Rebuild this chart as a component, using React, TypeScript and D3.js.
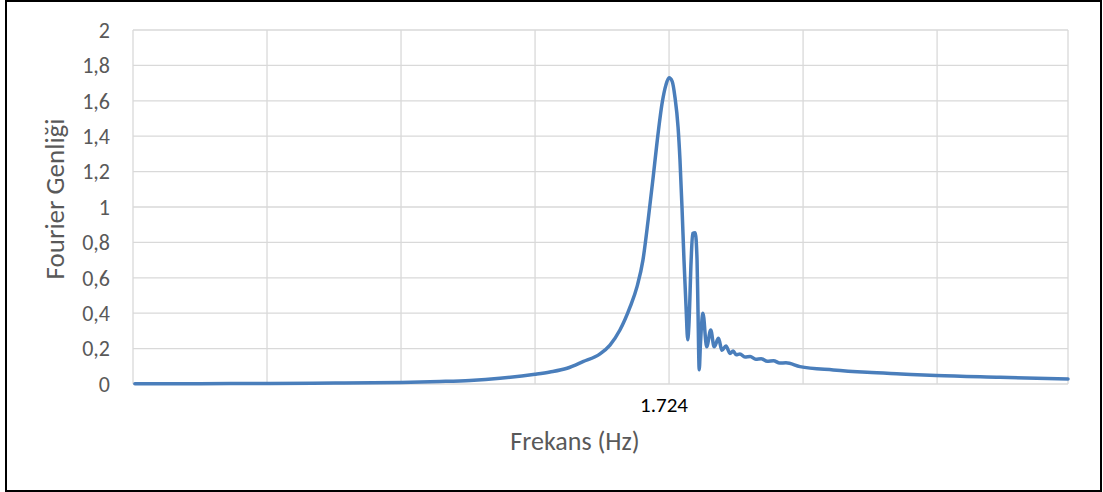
import React from "react";
import * as d3 from "d3";

// frequency (Hz) and Fourier amplitude
const freq = [
  0.006, 0.216, 0.441, 0.65, 0.862, 0.987, 1.084, 1.18, 1.293, 1.341, 1.396,
  1.447, 1.502, 1.534, 1.566, 1.599, 1.621, 1.64, 1.657, 1.673, 1.685, 1.702,
  1.714, 1.724, 1.734, 1.743, 1.753, 1.759, 1.766, 1.772, 1.779, 1.784, 1.788,
  1.795, 1.8, 1.808, 1.814, 1.817, 1.821, 1.825, 1.833, 1.845, 1.858, 1.869,
  1.883, 1.894, 1.907, 1.92, 1.93, 1.94, 1.952, 1.968, 1.985, 2.003, 2.02,
  2.04, 2.06, 2.08, 2.1, 2.145, 2.252, 2.361, 2.47, 2.583, 2.789, 3.007,
];
const amp = [
  0.002, 0.002, 0.003, 0.005, 0.009, 0.014, 0.02, 0.032, 0.055, 0.068, 0.089,
  0.126, 0.17, 0.22, 0.305, 0.437, 0.55, 0.7, 0.93, 1.17, 1.36, 1.59, 1.69,
  1.73, 1.71, 1.62, 1.45, 1.27, 0.98, 0.7, 0.42, 0.25, 0.34, 0.7, 0.85, 0.855,
  0.7, 0.42, 0.08, 0.23, 0.4, 0.21, 0.305, 0.21, 0.258, 0.19, 0.215, 0.173,
  0.186, 0.165, 0.17, 0.152, 0.155, 0.14, 0.143, 0.128, 0.132, 0.118, 0.12,
  0.098, 0.079, 0.066, 0.057, 0.048, 0.038, 0.028,
];
const yTicks = [0, 0.2, 0.4, 0.6, 0.8, 1, 1.2, 1.4, 1.6, 1.8, 2];
const xLabel = 1.724;
const gridStep = 0.431;

const W = 1103;
const H = 492;
const margin = { left: 133, right: 35, top: 30, bottom: 108 };

function App() {
  const data = freq.map((f, i) => ({ f, a: amp[i] }));
  const x = d3
    .scaleLinear()
    .domain([0, freq[freq.length - 1]])
    .range([margin.left, W - margin.right]);
  const y = d3
    .scaleLinear()
    .domain([0, 2])
    .range([H - margin.bottom, margin.top]);

  const line = d3
    .line<any>()
    .x((d) => x(d.f))
    .y((d) => y(d.a))
    .curve(d3.curveMonotoneX);

  const vGrid = d3.range(0, 7).map((k) => k * gridStep);
  vGrid.push(freq[freq.length - 1]);

  const fmt = (v: number) => String(v).replace(".", ",");
  const font = "Carlito, Calibri, Lato, sans-serif";

  return (
    <div style={{ position: "absolute", left: 0, top: 0 }}>
      <svg width={W} height={H} style={{ display: "block", background: "#fff" }}>
        <rect x={6} y={1} width={1095} height={490} fill="#fff" stroke="#000" strokeWidth={2} />
        {yTicks.map((t) => (
          <line key={"h" + t} x1={x(0)} x2={x(vGrid[7])} y1={y(t)} y2={y(t)} stroke="#d9d9d9" strokeWidth={1.3} />
        ))}
        {vGrid.map((g, i) => (
          <line key={"v" + i} x1={x(g)} x2={x(g)} y1={y(2)} y2={y(0)} stroke="#d9d9d9" strokeWidth={1.3} />
        ))}
        {yTicks.map((t) => (
          <text key={"t" + t} x={110} y={y(t)} dy="0.35em" textAnchor="end" fontFamily={font} fontSize={22} fill="#595959">
            {fmt(t)}
          </text>
        ))}
        <text x={664} y={412} textAnchor="middle" fontFamily={font} fontSize={21} fill="#000">
          {String(xLabel)}
        </text>
        <text x={575} y={450} textAnchor="middle" fontFamily={font} fontSize={26} fill="#595959">
          Frekans (Hz)
        </text>
        <text transform="translate(64,199) rotate(-90)" textAnchor="middle" fontFamily={font} fontSize={27} fill="#595959">
          Fourier Genliği
        </text>
        <path d={line(data) || ""} fill="none" stroke="#4a7ebb" strokeWidth={3.5} strokeLinejoin="round" strokeLinecap="round" />
      </svg>
    </div>
  );
}

export default App;
